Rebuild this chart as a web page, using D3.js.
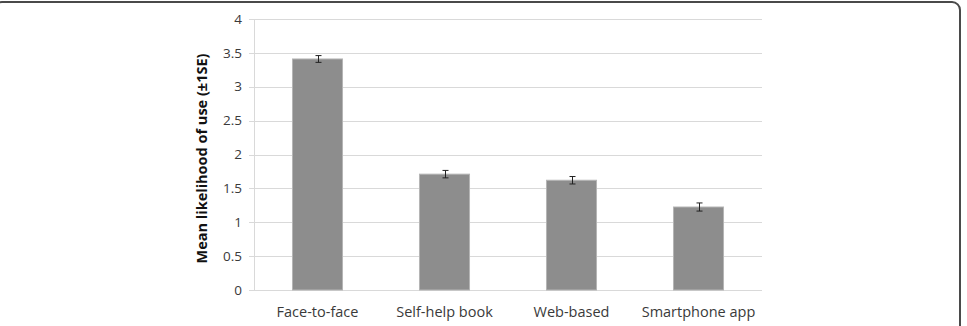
<!DOCTYPE html>
<html>
<head>
<meta charset="utf-8">
<script src="https://cdn.jsdelivr.net/npm/d3@7"></script>
<style>
  html, body { margin: 0; padding: 0; background: #fff; }
  svg { display: block; }
  .tick-label { font-family: "Open Sans", sans-serif; font-size: 13.5px; fill: #3a3a3a; }
  .cat-label { font-family: "Open Sans", sans-serif; font-size: 14.5px; fill: #3a3a3a; }
  .axis-title { font-family: "Open Sans", sans-serif; font-size: 14.5px; font-weight: bold; fill: #111; }
</style>
</head>
<body>
<div id="chart"></div>
<script>
const categories = ["Face-to-face", "Self-help book", "Web-based", "Smartphone app"];
const means = [3.41, 1.71, 1.62, 1.225];
const stdErrors = [0.05, 0.055, 0.055, 0.06];
const yTicks = [0, 0.5, 1, 1.5, 2, 2.5, 3, 3.5, 4];
const yTickLabels = ["0", "0.5", "1", "1.5", "2", "2.5", "3", "3.5", "4"];

const width = 967;
const height = 326;
const margin = { top: 19, right: 205, bottom: 36, left: 254 };

const svg = d3.select("#chart").append("svg")
  .attr("width", width)
  .attr("height", height);

// rounded frame, bottom and left sides fall outside the window
svg.append("rect")
  .attr("x", -6)
  .attr("y", 2)
  .attr("width", 966)
  .attr("height", 400)
  .attr("rx", 8)
  .attr("fill", "none")
  .attr("stroke", "#4a4a4a")
  .attr("stroke-width", 2);

const x = d3.scaleBand()
  .domain(categories)
  .range([margin.left, width - margin.right])
  .padding(0);

const y = d3.scaleLinear()
  .domain([0, 4])
  .range([height - margin.bottom, margin.top]);

// gridlines + tick marks
const grid = svg.append("g");
grid.selectAll("line")
  .data(yTicks)
  .enter()
  .append("line")
  .attr("x1", margin.left - 5)
  .attr("x2", width - margin.right)
  .attr("y1", d => Math.round(y(d)) + 0.5)
  .attr("y2", d => Math.round(y(d)) + 0.5)
  .attr("stroke", "#d9d9d9")
  .attr("stroke-width", 1);

svg.append("line")
  .attr("x1", margin.left + 0.5)
  .attr("x2", margin.left + 0.5)
  .attr("y1", y(4))
  .attr("y2", y(0))
  .attr("stroke", "#d9d9d9");

svg.append("g")
  .selectAll("text")
  .data(yTicks)
  .enter()
  .append("text")
  .attr("class", "tick-label")
  .attr("x", margin.left - 12)
  .attr("y", d => y(d))
  .attr("dy", "0.35em")
  .attr("text-anchor", "end")
  .text((d, i) => yTickLabels[i]);

const barWidth = x.bandwidth() * 0.394;

svg.append("g")
  .selectAll("rect")
  .data(categories)
  .enter()
  .append("rect")
  .attr("x", d => x(d) + (x.bandwidth() - barWidth) / 2)
  .attr("y", (d, i) => y(means[i]))
  .attr("width", barWidth)
  .attr("height", (d, i) => y(0) - y(means[i]))
  .attr("fill", "#8d8d8d")
  .attr("stroke", "#b5b5b5")
  .attr("stroke-width", 1);

// error bars
const err = svg.append("g")
  .attr("stroke", "#222")
  .attr("stroke-width", 1);

categories.forEach((c, i) => {
  const cx = Math.round(x(c) + x.bandwidth() / 2) + 0.5;
  const top = y(means[i] + stdErrors[i]);
  const bot = y(means[i] - stdErrors[i]);
  err.append("line").attr("x1", cx).attr("x2", cx).attr("y1", top).attr("y2", bot);
  err.append("line").attr("x1", cx - 3).attr("x2", cx + 3).attr("y1", top).attr("y2", top);
  err.append("line").attr("x1", cx - 3).attr("x2", cx + 3).attr("y1", bot).attr("y2", bot);
});

svg.append("g")
  .selectAll("text")
  .data(categories)
  .enter()
  .append("text")
  .attr("class", "cat-label")
  .attr("x", d => x(d) + x.bandwidth() / 2)
  .attr("y", y(0) + 22)
  .attr("dy", "0.35em")
  .attr("text-anchor", "middle")
  .text(d => d);

svg.append("text")
  .attr("class", "axis-title")
  .attr("transform", `translate(202,${(y(0) + y(4)) / 2 + 4}) rotate(-90)`)
  .attr("text-anchor", "middle")
  .attr("dy", "0.35em")
  .text("Mean likelihood of use (±1SE)");
</script>
</body>
</html>
